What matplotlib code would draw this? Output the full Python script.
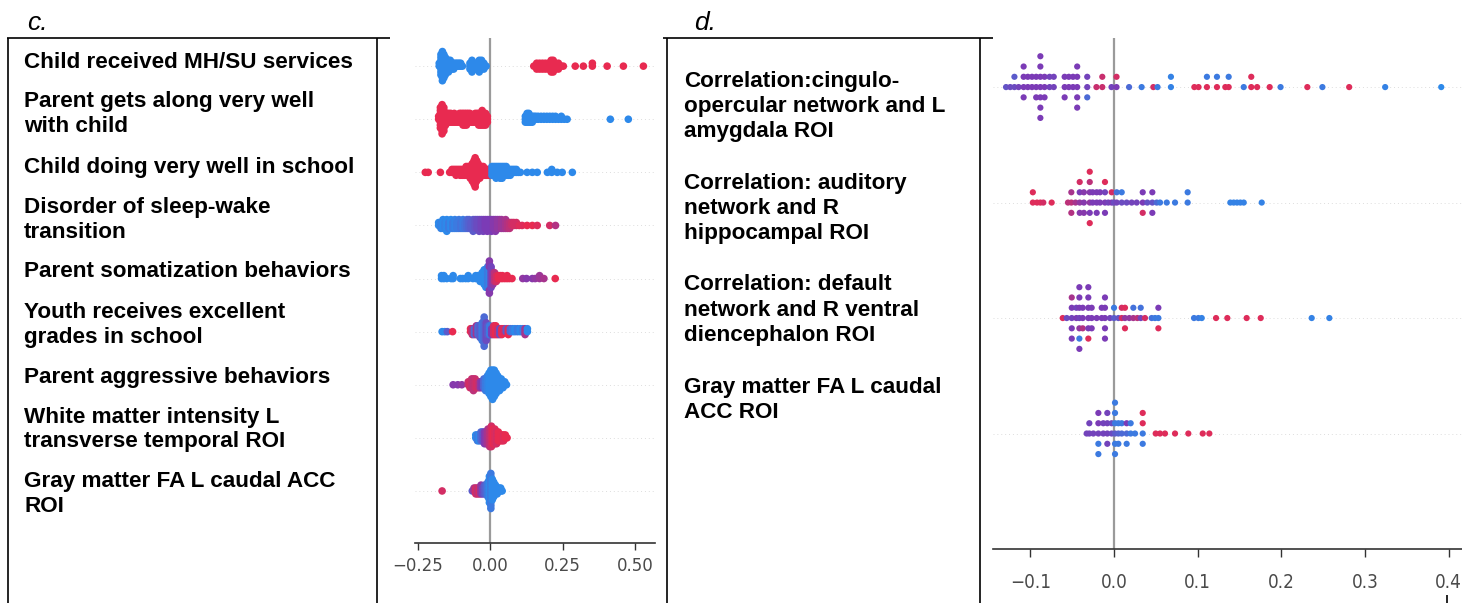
import numpy as np
import matplotlib
matplotlib.use("Agg")
import matplotlib.pyplot as plt
from matplotlib.colors import LinearSegmentedColormap
from matplotlib.lines import Line2D

W, H, DPI = 1462, 603, 100

# ---- data ---------------------------------------------------------------
C_LABELS = [
    ["Child received MH/SU services"],
    ["Parent gets along very well", "with child"],
    ["Child doing very well in school"],
    ["Disorder of sleep-wake", "transition"],
    ["Parent somatization behaviors"],
    ["Youth receives excellent", "grades in school"],
    ["Parent aggressive behaviors"],
    ["White matter intensity L", "transverse temporal ROI"],
    ["Gray matter FA L caudal ACC", "ROI"],
]
D_LABELS = [
    ["Correlation:cingulo-", "opercular network and L", "amygdala ROI"],
    ["Correlation: auditory", "network and R", "hippocampal ROI"],
    ["Correlation: default", "network and R ventral", "diencephalon ROI"],
    ["Gray matter FA L caudal", "ACC ROI"],
]
C_TICKS = [-0.25, 0.0, 0.25, 0.5]
D_TICKS = [-0.1, 0.0, 0.1, 0.2, 0.3, 0.4]

# each entry: (SHAP value, number of stacked dots, feature value 0=low/blue .. 1=high/red)
C_ROW1 = [
    (-0.176, 2, 0.0), (-0.170, 8, 0.0), (-0.165, 11, 0.0), (-0.160, 9, 0.0), (-0.155, 7, 0.0),
    (-0.150, 5, 0.0), (-0.144, 5, 0.0), (-0.138, 4, 0.0), (-0.132, 3, 0.0), (-0.126, 3, 0.0),
    (-0.120, 2, 0.0), (-0.114, 2, 0.0), (-0.108, 2, 0.0), (-0.102, 2, 0.0), (-0.096, 1, 0.0),
    (-0.070, 3, 0.0), (-0.063, 5, 0.0), (-0.056, 3, 0.0), (-0.048, 3, 0.0), (-0.038, 5, 0.0),
    (-0.030, 4, 0.0), (-0.022, 3, 0.0), (-0.014, 1, 0.0),
    (0.150, 1, 1.0), (0.160, 3, 1.0), (0.170, 3, 1.0), (0.180, 3, 1.0), (0.190, 3, 1.0),
    (0.200, 3, 1.0), (0.210, 5, 1.0), (0.217, 5, 1.0), (0.225, 3, 1.0), (0.235, 3, 1.0),
    (0.245, 1, 1.0), (0.252, 1, 1.0), (0.293, 1, 1.0), (0.321, 1, 1.0), (0.352, 2, 1.0),
    (0.403, 1, 1.0), (0.459, 1, 1.0), (0.528, 1, 1.0),
]
C_ROW2 = [
    (-0.178, 2, 1.0), (-0.172, 8, 1.0), (-0.166, 11, 1.0), (-0.160, 9, 1.0), (-0.154, 5, 1.0),
    (-0.148, 4, 1.0), (-0.142, 4, 1.0), (-0.136, 4, 1.0), (-0.130, 3, 1.0), (-0.124, 4, 1.0),
    (-0.118, 3, 1.0), (-0.112, 3, 1.0), (-0.106, 4, 1.0), (-0.100, 4, 1.0), (-0.094, 5, 1.0),
    (-0.088, 5, 1.0), (-0.082, 5, 1.0), (-0.076, 4, 1.0), (-0.070, 4, 1.0), (-0.064, 3, 1.0),
    (-0.058, 3, 1.0), (-0.052, 4, 1.0), (-0.046, 4, 1.0), (-0.040, 5, 1.0), (-0.034, 5, 1.0),
    (-0.028, 6, 1.0), (-0.022, 5, 1.0), (-0.016, 5, 1.0), (-0.010, 3, 1.0),
    (0.121, 3, 0.0), (0.127, 4, 0.0), (0.133, 4, 0.0), (0.139, 3, 0.0), (0.145, 3, 0.0),
    (0.151, 2, 0.0), (0.157, 2, 0.0), (0.165, 2, 0.0), (0.175, 2, 0.0), (0.185, 2, 0.0),
    (0.195, 2, 0.0), (0.205, 2, 0.0), (0.215, 2, 0.0), (0.225, 2, 0.0), (0.235, 1, 0.0),
    (0.245, 2, 0.0), (0.255, 1, 0.0), (0.265, 1, 0.0), (0.414, 1, 0.0), (0.476, 1, 0.0),
]
C_ROW3 = [
    (-0.224, 1, 1.0), (-0.214, 1, 1.0), (-0.172, 1, 1.0), (-0.140, 1, 1.0), (-0.132, 2, 1.0),
    (-0.125, 2, 1.0), (-0.118, 3, 1.0), (-0.111, 2, 1.0), (-0.104, 3, 1.0), (-0.097, 3, 1.0),
    (-0.090, 3, 1.0), (-0.083, 4, 1.0), (-0.076, 4, 1.0), (-0.069, 5, 1.0), (-0.062, 7, 1.0),
    (-0.056, 9, 1.0), (-0.052, 11, 1.0), (-0.047, 8, 1.0), (-0.042, 6, 1.0), (-0.036, 5, 1.0),
    (-0.030, 4, 1.0), (-0.024, 4, 1.0), (-0.018, 3, 1.0), (-0.012, 3, 1.0), (-0.006, 3, 1.0),
    (-0.001, 3, 1.0),
    (0.006, 4, 0.0), (0.013, 4, 0.0), (0.020, 5, 0.0), (0.027, 4, 0.0), (0.034, 5, 0.0),
    (0.041, 5, 0.0), (0.048, 4, 0.0), (0.055, 4, 0.0), (0.062, 3, 0.0), (0.069, 3, 0.0),
    (0.076, 2, 0.0), (0.083, 2, 0.0), (0.090, 2, 0.0), (0.097, 1, 0.0), (0.104, 1, 0.0),
    (0.127, 1, 0.0), (0.145, 1, 0.0), (0.162, 1, 0.0), (0.197, 1, 0.0), (0.212, 2, 0.0),
    (0.231, 1, 0.0), (0.248, 1, 0.0), (0.283, 1, 0.0),
]
C_ROW4 = [
    (-0.178, 2, 0.0), (-0.170, 3, 0.05), (-0.163, 4, 0.0), (-0.156, 3, 0.05), (-0.150, 5, 0.0),
    (-0.143, 3, 0.1), (-0.136, 4, 0.0), (-0.129, 3, 0.1), (-0.122, 4, 0.05), (-0.115, 3, 0.1),
    (-0.108, 4, 0.1), (-0.101, 3, 0.15), (-0.094, 4, 0.1), (-0.087, 3, 0.15), (-0.080, 4, 0.2),
    (-0.073, 4, 0.25), (-0.066, 3, 0.3), (-0.059, 5, 0.3), (-0.052, 4, 0.35), (-0.045, 4, 0.4),
    (-0.038, 5, 0.4), (-0.031, 4, 0.45), (-0.024, 5, 0.45), (-0.017, 4, 0.5), (-0.010, 5, 0.5),
    (-0.003, 4, 0.5), (0.004, 5, 0.5), (0.011, 4, 0.55), (0.018, 5, 0.55), (0.025, 4, 0.6),
    (0.032, 4, 0.6), (0.039, 4, 0.65), (0.046, 3, 0.65), (0.053, 4, 0.7), (0.060, 3, 0.75),
    (0.067, 3, 0.8), (0.074, 2, 0.85), (0.081, 2, 0.9), (0.090, 2, 0.9), (0.100, 1, 0.95),
    (0.110, 1, 0.95), (0.127, 1, 1.0), (0.145, 1, 1.0), (0.162, 1, 0.95), (0.205, 1, 0.9),
    (0.225, 1, 0.75),
]
C_ROW5 = [
    (-0.168, 2, 0.0), (-0.160, 2, 0.0), (-0.150, 1, 0.0), (-0.135, 1, 0.0), (-0.128, 2, 0.0),
    (-0.103, 1, 0.0), (-0.095, 1, 0.0), (-0.085, 1, 0.0), (-0.076, 2, 0.0), (-0.060, 1, 0.0),
    (-0.050, 2, 0.0), (-0.042, 2, 0.0), (-0.035, 3, 0.0), (-0.028, 4, 0.0), (-0.021, 6, 0.0),
    (-0.015, 7, 0.0), (-0.009, 8, 0.1), (-0.003, 7, 0.05), (-0.003, 5, 0.55), (0.003, 8, 0.45),
    (0.009, 5, 0.6), (0.015, 4, 0.8), (0.021, 3, 0.9), (0.028, 2, 1.0), (0.035, 2, 1.0),
    (0.042, 2, 1.0), (0.050, 1, 1.0), (0.058, 2, 1.0), (0.066, 1, 1.0), (0.075, 1, 1.0),
    (0.112, 1, 0.6), (0.125, 1, 0.55), (0.145, 1, 0.55), (0.155, 1, 0.6), (0.170, 2, 0.65),
    (0.185, 1, 0.7), (0.224, 1, 1.0),
]
C_ROW6 = [
    (-0.166, 1, 0.0), (-0.157, 1, 0.0), (-0.148, 1, 0.3), (-0.130, 1, 1.0), (-0.068, 2, 1.0),
    (-0.062, 3, 0.8), (-0.055, 3, 0.2), (-0.048, 4, 0.7), (-0.042, 4, 0.2), (-0.035, 5, 0.3),
    (-0.028, 7, 0.1), (-0.021, 11, 0.2), (-0.014, 7, 0.4), (-0.008, 4, 0.3), (-0.002, 4, 0.1),
    (0.005, 3, 0.5), (0.012, 4, 0.9), (0.019, 4, 1.0), (0.026, 3, 0.9), (0.033, 3, 0.4),
    (0.040, 3, 1.0), (0.048, 2, 0.9), (0.055, 2, 0.3), (0.062, 3, 1.0), (0.069, 2, 0.2),
    (0.077, 2, 0.1), (0.085, 2, 0.0), (0.094, 2, 0.1), (0.103, 2, 0.0), (0.112, 2, 0.1),
    (0.120, 3, 0.7), (0.128, 2, 0.0),
]
C_ROW7 = [
    (-0.128, 1, 0.55), (-0.112, 1, 0.55), (-0.098, 1, 0.6), (-0.076, 2, 0.85), (-0.070, 3, 0.9),
    (-0.064, 4, 0.85), (-0.058, 5, 0.8), (-0.052, 4, 0.85), (-0.046, 3, 0.9), (-0.040, 3, 0.85),
    (-0.034, 3, 0.6), (-0.028, 3, 0.5), (-0.022, 4, 0.2), (-0.016, 5, 0.1), (-0.010, 6, 0.05),
    (-0.004, 8, 0.0), (0.002, 10, 0.0), (0.008, 11, 0.0), (0.014, 10, 0.0), (0.020, 8, 0.0),
    (0.026, 6, 0.0), (0.032, 5, 0.0), (0.038, 4, 0.0), (0.044, 3, 0.0), (0.050, 2, 0.0),
    (0.056, 1, 0.0),
]
C_ROW8 = [
    (-0.050, 2, 0.0), (-0.044, 3, 0.1), (-0.038, 3, 0.0), (-0.032, 4, 0.2), (-0.026, 4, 0.3),
    (-0.020, 5, 0.5), (-0.014, 5, 0.6), (-0.008, 6, 0.7), (-0.002, 7, 0.8), (0.004, 8, 0.9),
    (0.010, 6, 1.0), (0.016, 6, 0.95), (0.022, 5, 0.9), (0.028, 4, 1.0), (0.034, 3, 1.0),
    (0.040, 3, 1.0), (0.046, 3, 0.95), (0.052, 2, 1.0), (0.058, 1, 1.0),
]
C_ROW9 = [
    (-0.166, 1, 0.9), (-0.062, 1, 0.3), (-0.056, 2, 0.7), (-0.050, 3, 0.9), (-0.044, 3, 0.8),
    (-0.038, 3, 0.9), (-0.032, 4, 0.6), (-0.026, 3, 0.4), (-0.020, 4, 0.3), (-0.014, 4, 0.2),
    (-0.008, 6, 0.1), (-0.003, 10, 0.0), (0.002, 13, 0.1), (0.007, 8, 0.0), (0.012, 6, 0.0),
    (0.018, 4, 0.0), (0.024, 3, 0.0), (0.030, 2, 0.0), (0.036, 2, 0.0), (0.041, 1, 0.0),
]

D_ROW1 = [
    (-0.129, 1, 0.35), (-0.124, 1, 0.4), (-0.119, 1, 0.4), (-0.119, 1, 0.3), (-0.114, 1, 0.45),
    (-0.108, 4, 0.5), (-0.103, 2, 0.5), (-0.098, 2, 0.5), (-0.093, 3, 0.5), (-0.088, 7, 0.5),
    (-0.083, 3, 0.5), (-0.077, 2, 0.45), (-0.072, 2, 0.45), (-0.059, 3, 0.5), (-0.054, 2, 0.5),
    (-0.049, 2, 0.5), (-0.044, 5, 0.5), (-0.032, 2, 0.45), (-0.032, 1, 0.2), (-0.021, 1, 0.85),
    (-0.014, 2, 0.85), (-0.003, 1, 0.45), (0.003, 1, 0.5), (0.003, 1, 0.9), (0.018, 1, 0.2),
    (0.033, 1, 0.1), (0.047, 1, 0.9), (0.052, 1, 0.1), (0.068, 2, 0.05), (0.096, 1, 0.95),
    (0.101, 1, 0.95), (0.111, 1, 0.95), (0.111, 1, 0.1), (0.123, 1, 0.95), (0.123, 1, 0.1),
    (0.133, 1, 0.95), (0.137, 1, 0.95), (0.137, 1, 0.1), (0.155, 1, 0.1), (0.164, 2, 0.95),
    (0.171, 1, 0.95), (0.186, 1, 0.95), (0.199, 1, 0.1), (0.231, 1, 0.95), (0.249, 1, 0.1),
    (0.281, 1, 0.95), (0.324, 1, 0.05), (0.391, 1, 0.0),
]
D_ROW2 = [
    (-0.097, 2, 0.95), (-0.092, 1, 0.95), (-0.088, 1, 0.95), (-0.0845, 1, 0.9), (-0.0745, 1, 0.95),
    (-0.055, 1, 0.8), (-0.051, 1, 0.8), (-0.051, 1, 0.7), (-0.051, 1, 0.75), (-0.046, 1, 0.7),
    (-0.041, 1, 0.6), (-0.041, 1, 0.5), (-0.041, 1, 0.55), (-0.041, 1, 0.9), (-0.036, 3, 0.55),
    (-0.029, 1, 0.6), (-0.029, 1, 0.55), (-0.029, 1, 0.5), (-0.029, 1, 0.8), (-0.029, 1, 0.95),
    (-0.029, 1, 0.95), (-0.0255, 2, 0.5), (-0.0207, 3, 0.5), (-0.0167, 2, 0.5),
    (-0.0108, 1, 0.5), (-0.0108, 1, 0.45), (-0.0108, 1, 0.5), (-0.0108, 1, 0.95),
    (-0.0068, 1, 0.45), (-0.0028, 1, 0.5), (-0.0028, 1, 0.9), (0.0, 1, 0.4), (0.0032, 1, 0.45),
    (0.0032, 1, 0.15), (0.0092, 1, 0.4), (0.0092, 1, 0.1), (0.0151, 1, 0.4), (0.0211, 1, 0.45),
    (0.0271, 1, 0.45), (0.0343, 2, 0.5), (0.0343, 1, 0.9), (0.0398, 1, 0.35), (0.0458, 1, 0.35),
    (0.0458, 2, 0.5), (0.051, 1, 0.2), (0.055, 1, 0.1), (0.063, 1, 0.1), (0.0729, 1, 0.1),
    (0.088, 2, 0.1), (0.139, 1, 0.05), (0.143, 1, 0.05), (0.147, 1, 0.05), (0.151, 1, 0.05),
    (0.155, 1, 0.05), (0.1765, 1, 0.05),
]
D_ROW3 = [
    (-0.0613, 1, 0.95), (-0.0565, 1, 0.4), (-0.0505, 1, 0.45), (-0.0505, 2, 0.5), (-0.0505, 1, 0.7),
    (-0.0505, 1, 0.5), (-0.045, 1, 0.5), (-0.045, 1, 0.45), (-0.0414, 1, 0.45), (-0.0414, 1, 0.5),
    (-0.0414, 1, 0.6), (-0.0414, 1, 0.5), (-0.0414, 1, 0.1), (-0.0414, 2, 0.5), (-0.0374, 2, 0.5),
    (-0.0374, 1, 0.75), (-0.0307, 4, 0.5), (-0.0307, 1, 0.95), (-0.0307, 1, 0.5), (-0.0267, 3, 0.5),
    (-0.0207, 1, 0.5), (-0.0147, 2, 0.5), (-0.0108, 5, 0.5), (-0.0048, 1, 0.45), (0.0, 1, 0.3),
    (0.0, 1, 0.1), (0.0052, 1, 0.35), (0.0092, 2, 0.9), (0.0131, 1, 0.6), (0.0131, 2, 0.95),
    (0.0183, 1, 0.6), (0.0231, 1, 0.7), (0.0231, 1, 0.15), (0.0279, 1, 0.8), (0.0319, 1, 0.45),
    (0.0319, 1, 0.15), (0.037, 1, 0.9), (0.045, 1, 0.15), (0.049, 1, 0.1), (0.053, 1, 0.1),
    (0.053, 1, 0.5), (0.053, 1, 0.95), (0.0956, 1, 0.1), (0.1008, 1, 0.1), (0.1048, 1, 0.05),
    (0.1219, 1, 0.95), (0.1354, 1, 0.95), (0.1585, 1, 0.95), (0.1753, 1, 0.95), (0.2362, 1, 0.05),
    (0.2573, 1, 0.05),
]
D_ROW4 = [
    (-0.0327, 1, 0.45), (-0.0295, 2, 0.45), (-0.0247, 1, 0.45), (-0.0187, 1, 0.45),
    (-0.0187, 1, 0.5), (-0.0187, 1, 0.1), (-0.0187, 1, 0.5), (-0.0187, 1, 0.1), (-0.0128, 2, 0.45),
    (-0.008, 4, 0.45), (-0.0028, 2, 0.4), (0.0012, 1, 0.3), (0.0012, 5, 0.1), (0.0052, 1, 0.25),
    (0.0052, 2, 0.1), (0.0092, 1, 0.2), (0.0092, 1, 0.1), (0.0151, 1, 0.2), (0.0151, 1, 0.5),
    (0.0151, 1, 0.1), (0.0199, 2, 0.1), (0.0251, 1, 0.1), (0.0343, 1, 0.1), (0.0343, 1, 0.95),
    (0.0343, 1, 0.1), (0.0343, 1, 0.95), (0.0498, 1, 0.95), (0.055, 1, 0.95), (0.0609, 1, 0.95),
    (0.0729, 1, 0.95), (0.0888, 1, 0.95), (0.106, 1, 0.95), (0.1139, 1, 0.95),
]

C_ROWS = [C_ROW1, C_ROW2, C_ROW3, C_ROW4, C_ROW5, C_ROW6, C_ROW7, C_ROW8, C_ROW9]
D_ROWS = [D_ROW1, D_ROW2, D_ROW3, D_ROW4]

CMAP = LinearSegmentedColormap.from_list("shap_like", ["#2d89ea", "#7b3bb6", "#e82a50"])


# ---- helpers --------------------------------------------------------------
def fx(x):
    return x / W


def fy(y):
    return 1 - y / H


def beeswarm(ax, rows, step, size):
    for r, row in enumerate(rows):
        xs, ys, vs = [], [], []
        layers = {}
        for x, n, v in row:
            key = round(x, 5)
            for _ in range(n):
                k = layers.get(key, 0)
                off = -np.ceil(k / 2) * (1 if k % 2 else -1)
                layers[key] = k + 1
                xs.append(x)
                ys.append(r + off * step)
                vs.append(v)
        ax.axhline(r, color="#dddddd", lw=0.7, dashes=(1, 3), zorder=0)
        ax.scatter(xs, ys, c=vs, cmap=CMAP, vmin=0, vmax=1, s=size,
                   linewidths=0, zorder=3)


def style(ax, xlim, ylim, ticks, fs, pad, tlen, stretch="normal"):
    ax.set_xlim(*xlim)
    ax.set_ylim(*ylim)
    for s in ("top", "right", "left"):
        ax.spines[s].set_visible(False)
    ax.spines["bottom"].set_color("#333333")
    ax.spines["bottom"].set_linewidth(1.2)
    ax.set_yticks([])
    ax.set_xticks(ticks)
    ax.tick_params(axis="x", colors="#333333", labelcolor="#4a4a4a",
                   length=tlen, width=1, labelsize=fs, pad=pad)
    for t in ax.get_xticklabels():
        t.set_fontstretch(stretch)
    ax.axvline(0, color="#9a9a9a", lw=1.6, zorder=1)
    ax.patch.set_alpha(0)


def labels(fig, groups, x, y0, pitch, gap):
    y = y0
    for lines in groups:
        for line in lines:
            fig.text(fx(x), fy(y), line, ha="left", va="center", fontsize=16.2,
                     fontweight="bold", family="Liberation Sans", color="black")
            y += pitch
        y += gap - pitch


def line(fig, x0, y0, x1, y1):
    fig.add_artist(Line2D([fx(x0), fx(x1)], [fy(y0), fy(y1)], color="black",
                          lw=1.2, solid_capstyle="butt"))


# ---- figure ---------------------------------------------------------------
fig = plt.figure(figsize=(W / DPI, H / DPI), dpi=DPI)

ax_c = fig.add_axes([fx(415), fy(543), (655 - 415) / W, (543 - 38) / H])
beeswarm(ax_c, C_ROWS, 0.055, 30)
style(ax_c, (-0.2595, 0.568), (8.98, -0.53), C_TICKS, 12, 5, 5)

ax_d = fig.add_axes([fx(993), fy(549), (W - 993) / W, (549 - 38) / H])
beeswarm(ax_d, D_ROWS, 0.089, 20)
style(ax_d, (-0.1446, 0.4158), (4.0, -0.425), D_TICKS, 13.5, 11, 6, "condensed")

labels(fig, C_LABELS, 24, 62, 25, 40)
labels(fig, D_LABELS, 684, 81, 25.5, 51)

fig.text(fx(27), fy(30), "c.", ha="left", va="baseline", fontsize=19,
         style="italic", family="Liberation Sans")
fig.text(fx(694), fy(30), "d.", ha="left", va="baseline", fontsize=19,
         style="italic", family="Liberation Sans")

# table borders around the label columns
line(fig, 7, 38, 390, 38)
line(fig, 8, 38, 8, H)
line(fig, 377, 38, 377, H)
line(fig, 663, 38, 993, 38)
line(fig, 667, 38, 667, H)
line(fig, 980, 38, 980, H)
line(fig, 1447, 595, 1447, H)

fig.savefig("out.png", dpi=DPI, facecolor="white")
